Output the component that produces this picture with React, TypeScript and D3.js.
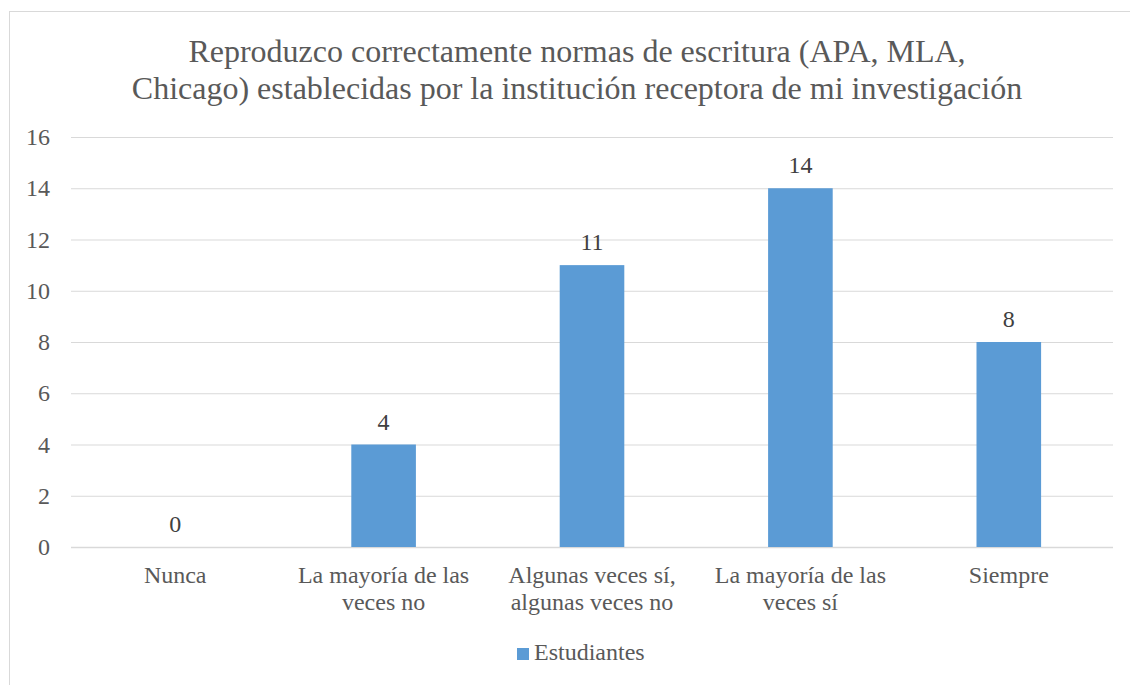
import { useEffect, useRef } from "react";
import * as d3 from "d3";

const categories = [
  ["Nunca"],
  ["La mayoría de las", "veces no"],
  ["Algunas veces sí,", "algunas veces no"],
  ["La mayoría de las", "veces sí"],
  ["Siempre"],
];
const values = [0, 4, 11, 14, 8];
const yTicks = [0, 2, 4, 6, 8, 10, 12, 14, 16];
const titleLines = [
  "Reproduzco correctamente normas de escritura (APA, MLA,",
  "Chicago) establecidas por la institución receptora de mi investigación",
];
const seriesName = "Estudiantes";

export default function App() {
  const ref = useRef<SVGSVGElement>(null);

  useEffect(() => {
    const svg = d3.select(ref.current);
    svg.selectAll("*").remove();
    const font = "\"Liberation Serif\", \"DejaVu Serif\", serif";
    const grey = "#595959";

    // chart frame
    svg.append("rect")
      .attr("x", 9.5).attr("y", 11.5)
      .attr("width", 1140).attr("height", 700)
      .attr("fill", "white").attr("stroke", "#d9d9d9");

    const x = d3.scaleBand<number>()
      .domain(d3.range(values.length))
      .range([71, 1113])
      .paddingInner(0.69).paddingOuter(0.345);
    const y = d3.scaleLinear().domain([0, 16]).range([547, 137]);

    // title
    svg.append("g").selectAll("text").data(titleLines).join("text")
      .attr("x", 577).attr("y", (d, i) => 62 + i * 36.5)
      .attr("text-anchor", "middle")
      .style("font-family", font).style("font-size", "32px")
      .attr("fill", grey).text((d) => d);

    // gridlines
    svg.append("g").selectAll("line").data(yTicks).join("line")
      .attr("x1", 71).attr("x2", 1113)
      .attr("y1", (d) => y(d) + 0.5).attr("y2", (d) => y(d) + 0.5)
      .attr("stroke", "#d9d9d9").attr("stroke-width", (d) => d === 0 ? 1.5 : 1);

    svg.append("g").selectAll("text").data(yTicks).join("text")
      .attr("x", 50).attr("y", (d) => y(d) + 8)
      .attr("text-anchor", "end")
      .style("font-family", font).style("font-size", "24px")
      .attr("fill", grey).text((d) => d);

    // bars
    svg.append("g").selectAll("rect").data(values).join("rect")
      .attr("x", (d, i) => x(i)!)
      .attr("y", (d) => y(d))
      .attr("width", x.bandwidth())
      .attr("height", (d) => y(0) - y(d))
      .attr("fill", "#5b9bd5");

    // data labels
    svg.append("g").selectAll("text").data(values).join("text")
      .attr("x", (d, i) => x(i)! + x.bandwidth() / 2)
      .attr("y", (d) => y(d) - 15)
      .attr("text-anchor", "middle")
      .style("font-family", font).style("font-size", "24px")
      .attr("fill", "#404040").text((d) => d);

    // category labels
    const cat = svg.append("g").selectAll("text").data(categories).join("text")
      .attr("text-anchor", "middle")
      .style("font-family", font).style("font-size", "24px")
      .attr("fill", grey);
    cat.selectAll("tspan").data((d, i) => d.map((t) => ({ t, i }))).join("tspan")
      .attr("x", (d) => x(d.i)! + x.bandwidth() / 2)
      .attr("y", (d, j) => 583 + j * 27)
      .text((d) => d.t);

    // legend
    svg.append("rect")
      .attr("x", 517).attr("y", 648).attr("width", 12).attr("height", 12)
      .attr("fill", "#5b9bd5");
    svg.append("text")
      .attr("x", 534).attr("y", 660)
      .style("font-family", font).style("font-size", "24px")
      .attr("fill", grey).text(seriesName);
  }, []);

  return (
    <svg ref={ref} width={1130} height={685}
      style={{ position: "absolute", left: 0, top: 0, background: "white" }} />
  );
}
